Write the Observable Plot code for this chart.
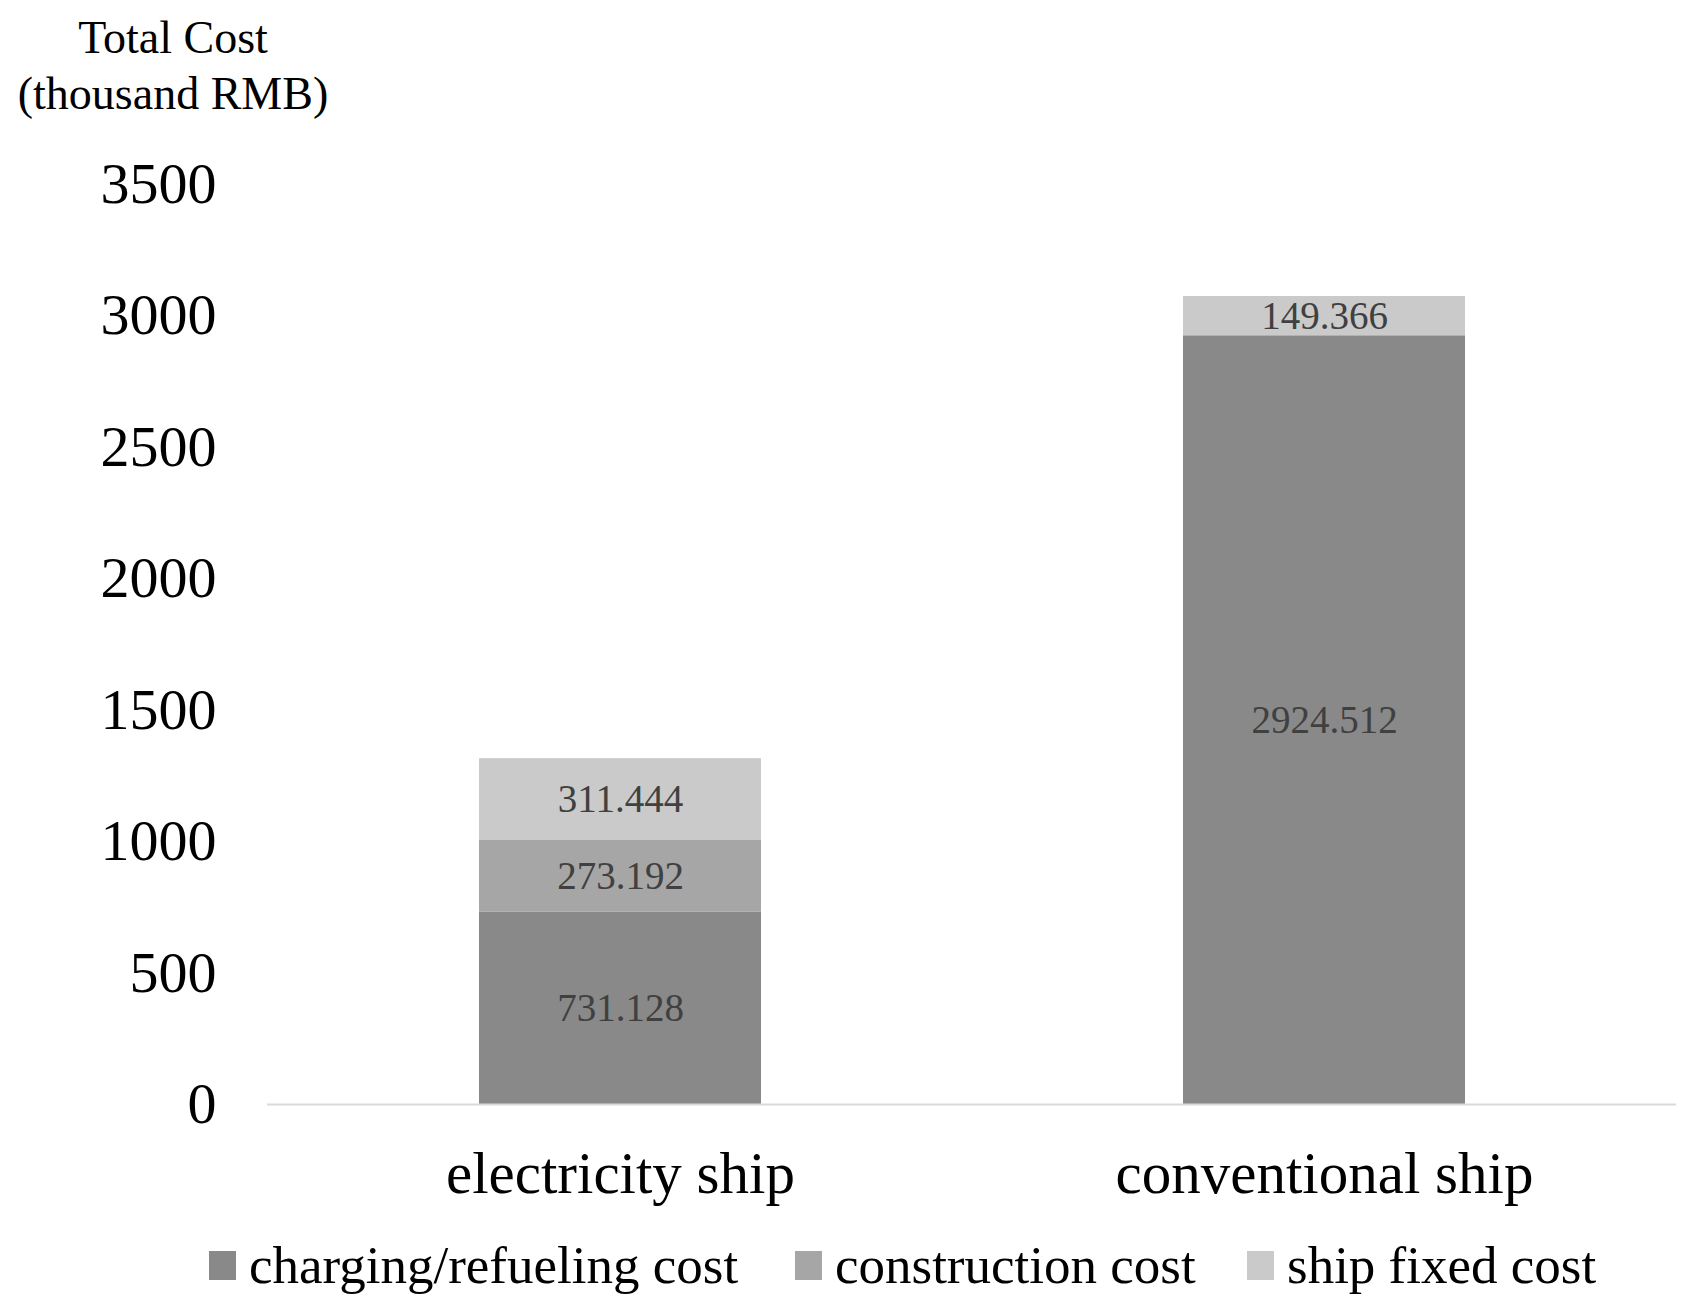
<!DOCTYPE html>
<html>
<head>
<meta charset="utf-8">
<script src="https://cdn.jsdelivr.net/npm/d3@7"></script>
<script src="https://cdn.jsdelivr.net/npm/@observablehq/plot@0.6"></script>
<style>
  html, body { margin: 0; padding: 0; background: #fff; }
  body { width: 1696px; height: 1316px; overflow: hidden; font-family: "Liberation Serif", "DejaVu Serif", serif; color: #000; }
  #title { width: 346px; padding-top: 10px; height: 112px; line-height: 56px; font-size: 46px; text-align: center; }
  #chart svg { display: block; }
  #legend { position: relative; height: 60px; margin-top: 13px; font-size: 53px; line-height: 60px; }
  #legend .item { position: absolute; top: 0; display: flex; align-items: center; height: 60px; }
  #legend .sw { width: 27px; height: 29px; margin-right: 13px; }
</style>
</head>
<body>
<div id="title"><div>Total Cost</div><div>(thousand RMB)</div></div>
<div id="chart"></div>
<div id="legend"></div>
<script>
const categories = ["electricity ship", "conventional ship"];
const series = ["charging/refueling cost", "construction cost", "ship fixed cost"];
const chargingCost = [731.128, 2924.512];
const constructionCost = [273.192, 0];
const shipFixedCost = [311.444, 149.366];
const yTicks = [0, 500, 1000, 1500, 2000, 2500, 3000, 3500];
const colors = ["#898989", "#a6a6a6", "#cacaca"];

const seriesValues = [chargingCost, constructionCost, shipFixedCost];
const rows = [];
categories.forEach((c, i) => {
  series.forEach((s, j) => {
    rows.push({category: c, series: s, value: seriesValues[j][i]});
  });
});

const font = "Liberation Serif";
const chart = Plot.plot({
  width: 1696,
  height: 1100,
  marginTop: 62,
  marginBottom: 118,
  marginLeft: 267,
  marginRight: 20,
  style: {fontFamily: font, color: "#000", background: "#fff"},
  x: {domain: categories, paddingInner: 0.6, paddingOuter: 0.3},
  y: {domain: [0, 3500]},
  color: {domain: series, range: colors},
  marks: [
    Plot.barY(rows, {x: "category", y: "value", fill: "series"}),
    Plot.ruleY([0], {stroke: "#d9d9d9", strokeWidth: 2}),
    Plot.text(rows, Plot.stackY({
      x: "category", y: "value", z: "series",
      text: d => d.value > 0 ? d.value.toFixed(3) : "",
      fill: "#404040", fontSize: 39, fontFamily: font
    })),
    Plot.axisY({ticks: yTicks, tickSize: 0, tickPadding: 51, fontSize: 58, fontFamily: font, label: null, tickFormat: d => String(d)}),
    Plot.axisX({tickSize: 0, tickPadding: 47, fontSize: 59, fontFamily: font, label: null})
  ]
});
document.getElementById("chart").appendChild(chart);

const legend = document.getElementById("legend");
const lefts = [209, 795, 1247];
series.forEach((s, j) => {
  const item = document.createElement("div");
  item.className = "item";
  item.style.left = lefts[j] + "px";
  const sw = document.createElement("div");
  sw.className = "sw";
  sw.style.background = colors[j];
  const tx = document.createElement("span");
  tx.textContent = s;
  item.appendChild(sw);
  item.appendChild(tx);
  legend.appendChild(item);
});
</script>
</body>
</html>
